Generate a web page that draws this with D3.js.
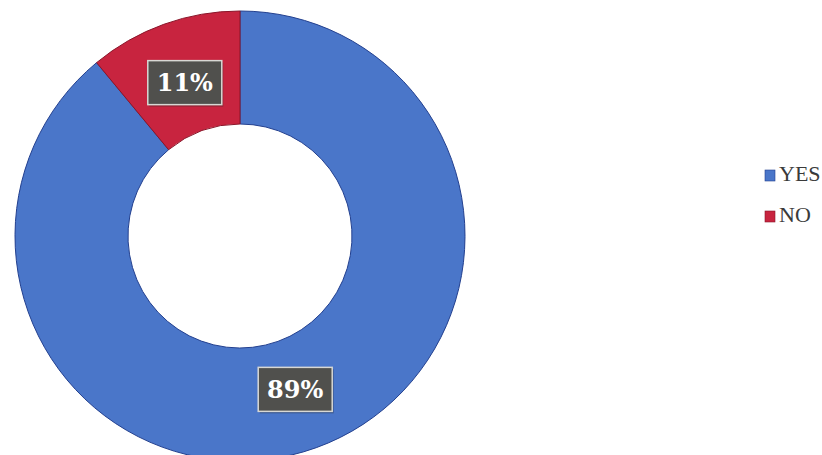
<!DOCTYPE html>
<html>
<head>
<meta charset="utf-8">
<script src="https://cdn.jsdelivr.net/npm/d3@7"></script>
<style>
  html, body { margin: 0; padding: 0; background: #ffffff; }
  svg { display: block; }
</style>
</head>
<body>
<svg id="chart" width="822" height="455"></svg>
<script>
// Survey answers
const categories = ["YES", "NO"];
const values = [89, 11];
const colors = ["#4a76c9", "#c8243f"];
const edgeColors = ["#23408f", "#8a1529"];

const svg = d3.select("#chart");
const W = 822, H = 455;
const cx = 240, cy = 236;
const outerR = 225, innerR = 112, labelR = 163;

const pie = d3.pie().sort(null).value(d => d.value);
const data = categories.map((c, i) => ({ name: c, value: values[i], i }));
const arcs = pie(data);

const arc = d3.arc().innerRadius(innerR).outerRadius(outerR);
const labelArc = d3.arc().innerRadius(labelR).outerRadius(labelR);

const g = svg.append("g").attr("transform", `translate(${cx},${cy})`);

g.selectAll("path.slice")
  .data(arcs)
  .join("path")
  .attr("class", "slice")
  .attr("d", arc)
  .attr("fill", d => colors[d.data.i])
  .attr("stroke", d => edgeColors[d.data.i])
  .attr("stroke-width", 1);

// Percentage callouts: dark boxes with light border
const total = d3.sum(values);
const lbl = g.selectAll("g.lbl")
  .data(arcs)
  .join("g")
  .attr("class", "lbl")
  .attr("transform", d => {
    const [x, y] = labelArc.centroid(d);
    return `translate(${x},${y})`;
  });

lbl.append("rect")
  .attr("x", -37).attr("y", -22)
  .attr("width", 74).attr("height", 44)
  .attr("fill", "#2a2a28")
  .attr("opacity", 0.35)
  .attr("transform", "translate(1.5,2)");

lbl.append("rect")
  .attr("x", -37).attr("y", -22)
  .attr("width", 74).attr("height", 44)
  .attr("fill", "#50504d")
  .attr("stroke", "#d8d8d4")
  .attr("stroke-width", 1.5);

lbl.append("text")
  .attr("text-anchor", "middle")
  .attr("dy", "0.36em")
  .attr("fill", "#ffffff")
  .attr("font-family", "'DejaVu Serif', serif")
  .attr("font-weight", "bold")
  .attr("font-size", 24)
  .text(d => Math.round(d.data.value / total * 100) + "%");

// Legend
const legend = svg.append("g").attr("transform", "translate(765,170)");
const item = legend.selectAll("g.item")
  .data(data)
  .join("g")
  .attr("class", "item")
  .attr("transform", (d, i) => `translate(0,${i * 41})`);

item.append("rect")
  .attr("width", 10).attr("height", 11)
  .attr("fill", d => colors[d.i])
  .attr("stroke", d => edgeColors[d.i])
  .attr("stroke-width", 0.6);

item.append("text")
  .attr("x", 14).attr("y", 11)
  .attr("fill", "#3a3a3a")
  .attr("font-family", "'Liberation Serif', serif")
  .attr("font-size", 22)
  .text(d => d.name);
</script>
</body>
</html>
